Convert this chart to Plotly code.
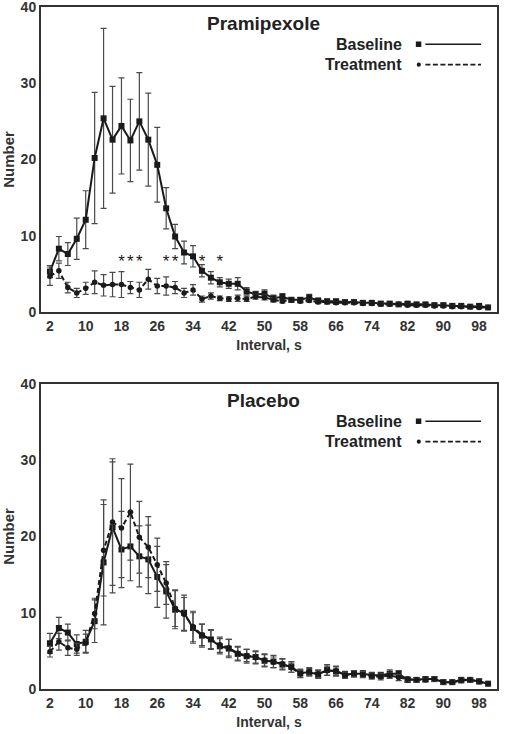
import plotly.graph_objects as go

# ---------------- data ----------------
intervals = list(range(2, 101, 2))
tick_vals = [2, 10, 18, 26, 34, 42, 50, 58, 66, 74, 82, 90, 98]

prami_base = [5.3, 8.3, 7.6, 9.6, 12.1, 20.2, 25.4, 22.6, 24.4, 22.5,
              25.0, 22.6, 19.3, 13.6, 9.9, 7.8, 7.3, 5.4, 4.5, 3.9,
              3.7, 3.7, 2.7, 2.3, 2.4, 1.8, 2.0, 1.6, 1.6, 1.9,
              1.5, 1.4, 1.4, 1.3, 1.3, 1.2, 1.2, 1.1, 1.1, 1.0,
              1.1, 1.0, 1.0, 0.9, 0.9, 0.8, 0.8, 0.7, 0.8, 0.6]
prami_base_err = [0.8, 1.6, 1.5, 2.7, 3.8, 8.6, 11.8, 7.0, 6.3, 5.4,
                  6.4, 6.1, 4.9, 2.7, 1.6, 1.5, 1.4, 0.8, 0.8, 0.6,
                  0.6, 0.8, 0.5, 0.4, 0.5, 0.4, 0.4, 0.3, 0.3, 0.4,
                  0.3, 0.3, 0.3, 0.2, 0.2, 0.2, 0.2, 0.2, 0.2, 0.2,
                  0.2, 0.2, 0.2, 0.2, 0.2, 0.2, 0.2, 0.2, 0.2, 0.2]
prami_treat = [4.7, 5.4, 3.2, 2.5, 3.1, 3.9, 3.5, 3.6, 3.6, 3.2,
               2.9, 4.3, 3.4, 3.4, 3.2, 2.5, 2.9, 1.7, 2.1, 1.8,
               1.7, 1.8, 1.7, 2.0, 1.9, 1.6, 1.4, 1.6, 1.4, 1.5,
               1.3, 1.3, 1.2, 1.2, 1.2, 1.1, 1.1, 1.0, 1.0, 1.0,
               0.9, 0.9, 0.9, 0.8, 0.8, 0.7, 0.7, 0.7, 0.6, 0.6]
prami_treat_err = [1.2, 1.0, 0.7, 0.6, 0.8, 1.5, 1.4, 1.6, 1.7, 0.8,
                   1.0, 1.3, 1.0, 1.2, 0.8, 0.6, 0.7, 0.4, 0.4, 0.3,
                   0.3, 0.4, 0.3, 0.3, 0.3, 0.3, 0.2, 0.2, 0.2, 0.2,
                   0.2, 0.2, 0.2, 0.2, 0.2, 0.2, 0.2, 0.2, 0.2, 0.2,
                   0.2, 0.2, 0.2, 0.2, 0.2, 0.2, 0.2, 0.2, 0.2, 0.2]

plac_base = [6.0, 8.0, 7.4, 5.9, 6.2, 8.9, 16.6, 21.2, 18.3, 18.7,
             17.4, 17.0, 14.7, 12.8, 10.4, 10.0, 8.0, 7.0, 6.5, 5.6,
             5.3, 4.6, 4.3, 4.2, 3.7, 3.6, 3.2, 2.9, 2.1, 2.2,
             1.9, 2.5, 2.3, 1.9, 2.0, 2.0, 1.8, 1.8, 2.0, 2.0,
             1.2, 1.2, 1.3, 1.3, 0.9, 0.9, 1.2, 1.2, 1.0, 0.7]
plac_base_err = [1.3, 1.4, 1.1, 1.2, 1.5, 2.8, 8.2, 8.6, 5.0, 4.5,
                 4.0, 4.5, 4.0, 3.5, 2.5, 2.3, 2.0, 1.5, 1.3, 1.0,
                 1.2, 0.9, 0.9, 0.8, 0.8, 0.8, 0.7, 0.7, 0.5, 0.5,
                 0.5, 0.7, 0.6, 0.4, 0.4, 0.4, 0.4, 0.4, 0.5, 0.4,
                 0.3, 0.3, 0.3, 0.3, 0.3, 0.2, 0.3, 0.3, 0.3, 0.2]
plac_treat = [4.9, 6.2, 5.4, 5.2, 6.0, 9.9, 18.2, 21.9, 21.1, 23.2,
              19.9, 18.6, 16.3, 13.9, 10.6, 9.8, 8.2, 7.1, 6.5, 5.8,
              5.4, 4.7, 4.4, 4.1, 3.8, 3.5, 3.3, 2.8, 2.0, 2.3,
              2.0, 2.4, 2.4, 1.8, 2.0, 1.9, 1.7, 1.6, 1.8, 1.5,
              1.3, 1.2, 1.2, 1.3, 0.9, 0.9, 1.1, 1.2, 1.0, 0.7]
plac_treat_err = [0.7, 1.1, 1.0, 0.8, 1.2, 2.0, 6.0, 8.3, 6.5, 6.3,
                  4.7, 4.0, 3.5, 2.8, 2.4, 2.2, 2.0, 1.4, 1.2, 1.0,
                  1.1, 0.9, 0.8, 0.8, 0.8, 0.7, 0.7, 0.6, 0.5, 0.5,
                  0.5, 0.6, 0.6, 0.4, 0.4, 0.4, 0.4, 0.4, 0.4, 0.4,
                  0.3, 0.3, 0.3, 0.3, 0.3, 0.2, 0.3, 0.3, 0.3, 0.2]

sig_x = [18, 20, 22, 28, 30, 36, 40]
sig_y = [7, 7, 7, 7, 7, 7, 7]

panel_titles = ["Pramipexole", "Placebo"]
legend_labels = ["Baseline", "Treatment"]
x_title = "Interval, s"
y_title = "Number"

# ---------------- styling ----------------
FONT = "Liberation Sans, Arial, sans-serif"
INK = "#1a1a1a"
ERR = "#4a4a4a"
DASH = "5px,3px"


def add_series(fig, y, err, xa, ya, symbol, dash, msize):
    fig.add_trace(go.Scatter(
        x=intervals, y=y, xaxis=xa, yaxis=ya, mode="lines+markers",
        line=dict(color=INK, width=2, dash=dash),
        marker=dict(symbol=symbol, size=msize, color=INK),
        error_y=dict(type="data", array=err, visible=True,
                     color=ERR, thickness=1.2, width=3),
        showlegend=False, hoverinfo="skip"))


fig = go.Figure()
add_series(fig, prami_base, prami_base_err, "x", "y", "square", "solid", 6)
add_series(fig, prami_treat, prami_treat_err, "x", "y", "circle", DASH, 5.5)
add_series(fig, plac_base, plac_base_err, "x2", "y2", "square", "solid", 6)
add_series(fig, plac_treat, plac_treat_err, "x2", "y2", "circle", DASH, 5.5)

fig.add_trace(go.Scatter(
    x=sig_x, y=[v - 0.6 for v in sig_y], xaxis="x", yaxis="y", mode="text",
    text=["*"] * len(sig_x), textfont=dict(family=FONT, size=17, color=INK),
    showlegend=False, hoverinfo="skip"))

axis_common = dict(
    showline=True, linewidth=2, linecolor="#333", mirror=True,
    showgrid=False, zeroline=False, ticks="", automargin=False,
    ticklabeloverflow="allow",
    tickfont=dict(family=FONT, size=14, color="#333", weight="bold"),
)

top_dom = [0.5528, 1.0]
bot_dom = [0.0, 0.4472]

xt_font = dict(family=FONT, size=14, color="#333", weight="bold")
yt_font = dict(family=FONT, size=15, color="#333", weight="bold")

fig.update_layout(
    width=505, height=734,
    margin=dict(l=41, r=8, t=7, b=45),
    paper_bgcolor="white", plot_bgcolor="white",
    xaxis=dict(axis_common, domain=[0, 1], anchor="y", range=[0, 102],
               tickvals=tick_vals,
               title=dict(text=x_title, standoff=7, font=xt_font)),
    yaxis=dict(axis_common, domain=top_dom, anchor="x", range=[0, 40],
               tickvals=[0, 10, 20, 30, 40],
               title=dict(text=y_title, standoff=4, font=yt_font)),
    xaxis2=dict(axis_common, domain=[0, 1], anchor="y2", range=[0, 102],
                tickvals=tick_vals,
                title=dict(text=x_title, standoff=7, font=xt_font)),
    yaxis2=dict(axis_common, domain=bot_dom, anchor="x2", range=[0, 40],
                tickvals=[0, 10, 20, 30, 40],
                title=dict(text=y_title, standoff=4, font=yt_font)),
)

annotations = []
shapes = []
for i, ttl in enumerate(panel_titles):
    ydom = "y domain" if i == 0 else "y2 domain"
    xdom = "x domain" if i == 0 else "x2 domain"
    annotations.append(dict(
        text=ttl, xref=xdom, yref=ydom, x=0.487, y=0.945,
        showarrow=False, xanchor="center", yanchor="middle",
        font=dict(family=FONT, size=19, color="#222", weight="bold")))
    for j, lab in enumerate(legend_labels):
        ly = 0.878 - j * 0.067
        annotations.append(dict(
            text=lab, xref=xdom, yref=ydom, x=0.797, y=ly,
            showarrow=False, xanchor="right", yanchor="middle",
            font=dict(family=FONT, size=16, color="#222", weight="bold")))
        shapes.append(dict(
            type="line", xref=xdom, yref=ydom, x0=0.843, x1=0.965, y0=ly, y1=ly,
            line=dict(color=INK, width=1.6,
                      dash="solid" if j == 0 else "5px,2.5px")))
        if j == 0:
            shapes.append(dict(
                type="rect", xref=xdom, yref=ydom,
                x0=0.822, x1=0.834, y0=ly - 0.009, y1=ly + 0.009,
                fillcolor=INK, line=dict(width=0)))
        else:
            shapes.append(dict(
                type="circle", xref=xdom, yref=ydom,
                x0=0.824, x1=0.833, y0=ly - 0.007, y1=ly + 0.007,
                fillcolor=INK, line=dict(width=0)))

fig.update_layout(annotations=annotations, shapes=shapes)

fig.write_html(
    "out.html",
    config={"displayModeBar": False},
    post_script="document.body.style.margin='0';document.body.style.overflow='hidden';",
)
